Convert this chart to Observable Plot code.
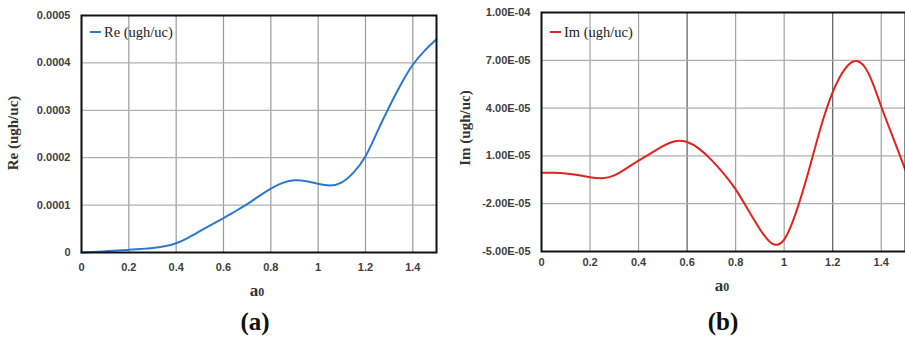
<!DOCTYPE html>
<html>
<head>
<meta charset="utf-8">
<script src="https://cdn.jsdelivr.net/npm/d3@7"></script>
<script src="https://cdn.jsdelivr.net/npm/@observablehq/plot@0.6"></script>
<style>
  html, body { margin: 0; padding: 0; background: #fff; }
  #wrap { position: relative; width: 905px; height: 337px; overflow: hidden; background: #fff; }
  .panel { position: absolute; top: 0; }
  .lbl { position: absolute; transform: translate(-50%, -50%); white-space: nowrap; line-height: 1; font-family: "Liberation Serif", "Times New Roman", serif; color: #222; }
  .ytitle { transform: translate(-50%, -50%) rotate(-90deg); font-weight: bold; font-size: 15px; color: #333; }
  .xtitle { font-weight: bold; font-size: 17px; color: #333; }
  .xtitle span { font-size: 70%; }
  .cap { font-weight: bold; font-size: 25px; color: #111; }
  .leg { position: absolute; font-family: "Liberation Serif", "Times New Roman", serif; font-size: 14.5px; color: #222; line-height: 1; white-space: nowrap; }
  .legline { position: absolute; height: 2px; }
</style>
</head>
<body>
<div id="wrap">
  <div id="pa" class="panel" style="left:0px"></div>
  <div id="pb" class="panel" style="left:455px"></div>

  <div class="lbl ytitle" style="left:13px; top:133px">Re (ugh/uc)</div>
  <div class="lbl xtitle" style="left:257px; top:290px">a<span>0</span></div>
  <div class="lbl cap" style="left:255px; top:321px">(a)</div>
  <div class="legline" style="left:90px; top:31px; width:11px; background:#2b78d0"></div>
  <div class="leg" style="left:104px; top:25px">Re (ugh/uc)</div>

  <div class="lbl ytitle" style="left:465px; top:128px">Im (ugh/uc)</div>
  <div class="lbl xtitle" style="left:722px; top:285px">a<span>0</span></div>
  <div class="lbl cap" style="left:723px; top:321px">(b)</div>
  <div class="legline" style="left:550px; top:31px; width:11px; background:#e0231e"></div>
  <div class="leg" style="left:564px; top:25px">Im (ugh/uc)</div>
</div>
<script>
// ---- data ----
const a0 = [0, 0.05, 0.1, 0.15, 0.2, 0.25, 0.3, 0.35, 0.4, 0.45, 0.5, 0.55, 0.6, 0.65, 0.7, 0.75, 0.8, 0.85, 0.9, 0.95, 1.0, 1.05, 1.1, 1.15, 1.2, 1.25, 1.3, 1.35, 1.4, 1.45, 1.5];
const reVals = [0, 0.1e-5, 0.25e-5, 0.4e-5, 0.57e-5, 0.75e-5, 0.95e-5, 1.3e-5, 1.95e-5, 3.1e-5, 4.5e-5, 5.9e-5, 7.25e-5, 8.7e-5, 10.2e-5, 11.9e-5, 13.5e-5, 14.7e-5, 15.25e-5, 15.05e-5, 14.5e-5, 14.15e-5, 14.8e-5, 16.9e-5, 20.3e-5, 25.5e-5, 30.7e-5, 35.5e-5, 39.6e-5, 42.6e-5, 45.0e-5];

const imVals = [-0.05e-5, -0.06e-5, -0.1e-5, -0.2e-5, -0.34e-5, -0.4e-5, -0.22e-5, 0.22e-5, 0.7e-5, 1.16e-5, 1.62e-5, 1.92e-5, 1.87e-5, 1.44e-5, 0.75e-5, -0.1e-5, -1.1e-5, -2.35e-5, -3.6e-5, -4.5e-5, -4.25e-5, -2.5e-5, 0.0e-5, 2.75e-5, 5.0e-5, 6.45e-5, 6.95e-5, 6.1e-5, 4.1e-5, 2.1e-5, 0.1e-5];

const xTicks = [0, 0.2, 0.4, 0.6, 0.8, 1, 1.2, 1.4];
const xTickLabels = ["0", "0.2", "0.4", "0.6", "0.8", "1", "1.2", "1.4"];
const reTicks = [0, 0.0001, 0.0002, 0.0003, 0.0004, 0.0005];
const reTickLabels = ["0", "0.0001", "0.0002", "0.0003", "0.0004", "0.0005"];
const imTicks = [-5e-5, -2e-5, 1e-5, 4e-5, 7e-5, 1e-4];
const imTickLabels = ["-5.00E-05", "-2.00E-05", "1.00E-05", "4.00E-05", "7.00E-05", "1.00E-04"];

const reData = a0.map((x, i) => ({x, y: reVals[i]}));
const imData = a0.map((x, i) => ({x, y: imVals[i]}));

const axisStyle = {fontFamily: "'Liberation Sans', Arial, sans-serif", fontSize: "11px", fontWeight: "bold", background: "transparent", overflow: "visible"};

const pa = Plot.plot({
  width: 450, height: 300,
  marginLeft: 81, marginRight: 14, marginTop: 15, marginBottom: 48,
  style: axisStyle,
  x: {domain: [0, 1.5]},
  y: {domain: [0, 0.0005]},
  marks: [
    Plot.gridX(xTicks, {stroke: "#9a9a9a", strokeOpacity: 1, strokeWidth: 1.2}),
    Plot.gridY(reTicks, {stroke: "#b0b0b0", strokeOpacity: 1, strokeWidth: 1.2}),
    Plot.axisX(xTicks, {tickSize: 0, tickPadding: 11, label: null, fill: "#404040", tickFormat: (d, i) => xTickLabels[i]}),
    Plot.axisY(reTicks, {tickSize: 0, tickPadding: 11, label: null, fill: "#404040", tickFormat: (d, i) => reTickLabels[i]}),
    Plot.line(reData, {x: "x", y: "y", stroke: "#2b78d0", strokeWidth: 2, curve: "natural"}),
    Plot.frame({stroke: "#111", strokeWidth: 2})
  ]
});
document.getElementById("pa").appendChild(pa);

const pb = Plot.plot({
  width: 450, height: 300,
  marginLeft: 86, marginRight: 0, marginTop: 12, marginBottom: 49,
  style: axisStyle,
  x: {domain: [0, 1.5]},
  y: {domain: [-5e-5, 1e-4]},
  marks: [
    Plot.gridX(xTicks, {stroke: d => (d === 0.6 || d === 1.2) ? "#5a5a5a" : "#a0a0a0", strokeOpacity: 1, strokeWidth: 1.2}),
    Plot.gridY(imTicks, {stroke: "#b0b0b0", strokeOpacity: 1, strokeWidth: 1.2}),
    Plot.axisX(xTicks, {tickSize: 0, tickPadding: 7, label: null, fill: "#404040", tickFormat: (d, i) => xTickLabels[i]}),
    Plot.axisY(imTicks, {tickSize: 0, tickPadding: 11, label: null, fill: "#404040", tickFormat: (d, i) => imTickLabels[i]}),
    Plot.line(imData, {x: "x", y: "y", stroke: "#e0231e", strokeWidth: 2, curve: "natural"}),
    Plot.frame({stroke: "#111", strokeWidth: 2})
  ]
});
document.getElementById("pb").appendChild(pb);
</script>
</body>
</html>
